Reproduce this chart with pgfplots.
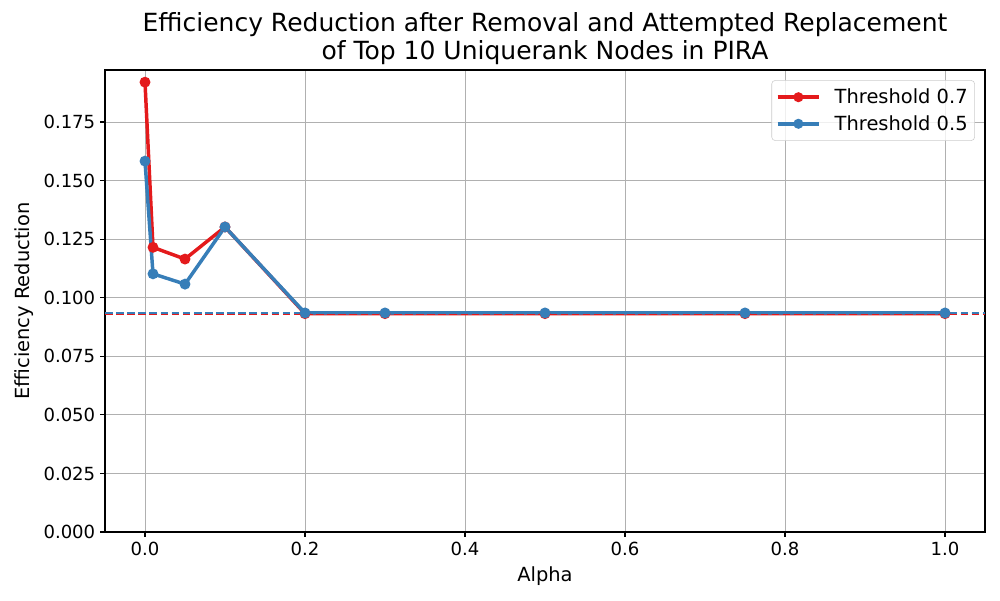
\documentclass[border=0pt]{standalone}
\usepackage{pgfplots}
\pgfplotsset{compat=1.18}
\usepackage{fontspec}
\setmainfont{DejaVu Sans}
\definecolor{cred}{HTML}{E41A1C}
\definecolor{cblue}{HTML}{377EB8}
\begin{document}
\begin{tikzpicture}
\path[use as bounding box] (-75.6pt,-48.96pt) rectangle (644.4pt,383.04pt);
\begin{axis}[
  scale only axis,
  width=633.6pt, height=332.64pt,
  xmin=-0.05, xmax=1.05, ymin=0, ymax=0.1972,
  xtick={0,0.2,0.4,0.6,0.8,1.0},
  ytick={0,0.025,0.05,0.075,0.1,0.125,0.15,0.175},
  xticklabel style={/pgf/number format/.cd,fixed,fixed zerofill,precision=1},
  yticklabel style={/pgf/number format/.cd,fixed,fixed zerofill,precision=3},
  scaled y ticks=false,
  /pgf/number format/assume math mode=true,
  tick label style={font=\fontsize{13}{15}\selectfont},
  grid=major,
  grid style={color=black!31, line width=0.6pt},
  axis line style={line width=0.8pt},
  tick style={black, line width=0.8pt},
  tick align=outside,
  xtick pos=bottom, ytick pos=left,
  major tick length=3.5pt,
  xlabel={Alpha}, ylabel={Efficiency Reduction},
  xlabel style={yshift=-1pt},
  label style={font=\fontsize{14}{16}\selectfont},
  title={Efficiency Reduction after Removal and Attempted Replacement\\of Top 10 Uniquerank Nodes in PIRA},
  title style={font=\fontsize{18}{20.5}\selectfont, align=center, yshift=-6pt},
  legend style={at={(0.9885,0.978)}, anchor=north east, font=\fontsize{14}{17}\selectfont, draw=black!20, rounded corners=2.5pt, fill=white, fill opacity=0.8, text opacity=1, row sep=3pt, inner xsep=3pt, inner ysep=4pt},
  legend cell align=left,
  legend image code/.code={\draw[#1, mark=none] (0cm,0cm) -- (1.05cm,0cm); \fill[#1] (0.525cm,0cm) circle (2.3pt); \path (1.33cm,0cm);},
]
\addplot[cred, line width=2.5pt, mark=*, mark size=2.6pt] coordinates {
(0,0.192) (0.01,0.1215) (0.05,0.1165) (0.1,0.1302) (0.2,0.0932) (0.3,0.0932) (0.5,0.0932) (0.75,0.0932) (1.0,0.0932)};
\addlegendentry{Threshold 0.7}
\addplot[cblue, line width=2.5pt, mark=*, mark size=2.6pt] coordinates {
(0,0.1583) (0.01,0.1102) (0.05,0.1058) (0.1,0.1302) (0.2,0.0935) (0.3,0.0935) (0.5,0.0935) (0.75,0.0935) (1.0,0.0935)};
\addlegendentry{Threshold 0.5}
\addplot[cred, line width=1.5pt, dashed, dash pattern=on 5.5pt off 2.5pt, forget plot] coordinates {(-0.05,0.0932) (1.05,0.0932)};
\addplot[cblue, line width=1.5pt, dashed, dash pattern=on 5.5pt off 2.5pt, forget plot] coordinates {(-0.05,0.0935) (1.05,0.0935)};
\end{axis}
\end{tikzpicture}
\end{document}
